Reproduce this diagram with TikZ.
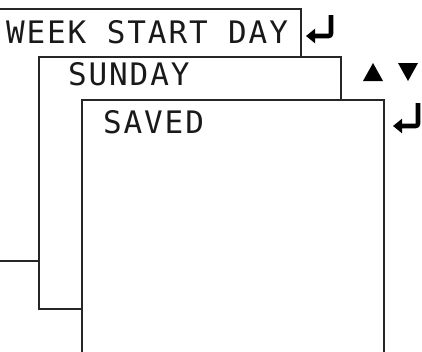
\documentclass[tikz,border=0pt]{standalone}
\usepackage{fontspec}
\usetikzlibrary{arrows.meta}
\newfontfamily\segfont[LetterSpace=6]{DejaVu Sans Mono}
\begin{document}
\begin{tikzpicture}[x=1pt,y=-1pt,
  screen/.style={draw=black!85,line width=1.3pt,fill=white},
  lcd/.style={anchor=base west,inner sep=0pt,font=\segfont\fontsize{31}{31}\selectfont,text=black!90},
  enterkey/.style={line width=4.6pt,rounded corners=2.5pt,-{Triangle[length=9pt,width=14pt]}},
  keytri/.style={fill=black}]
\useasboundingbox (0,0) rectangle (422,351);
% screens
\draw[screen] (-3,9) rectangle (301,261);
\node[lcd] (t1) at (6,43) {WEEK START DAY};
\draw[screen] (39,57) rectangle (341,309);
\node[lcd] (t2) at (68,85) {SUNDAY};
\draw[screen] (82,100) rectangle (384,362);
\node[lcd] (t3) at (103,133) {SAVED};
% enter keys
\coordinate (e1a) at (331,15);
\coordinate (e1b) at (331,36);
\coordinate (e1c) at (306,36);
\draw[enterkey] (e1a) -- (e1b) -- (e1c);
\coordinate (e2a) at (418,103);
\coordinate (e2b) at (418,126);
\coordinate (e2c) at (393,126);
\draw[enterkey] (e2a) -- (e2b) -- (e2c);
% up / down keys
\fill[keytri] (363,81) -- (373,63) -- (383,81) -- cycle;
\fill[keytri] (398,63) -- (418,63) -- (408,81) -- cycle;
\end{tikzpicture}
\end{document}
